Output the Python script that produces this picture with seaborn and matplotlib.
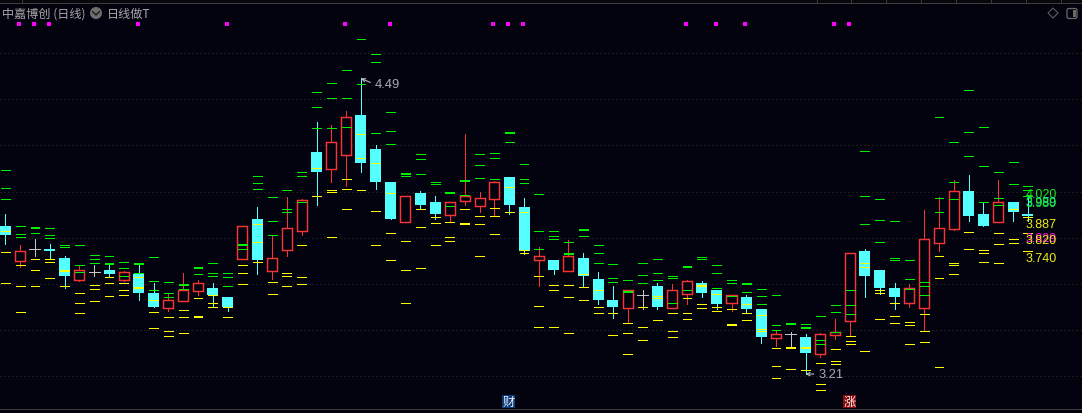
import numpy as np
import pandas as pd
import seaborn as sns
import matplotlib.pyplot as plt
from matplotlib.patches import Circle, FancyBboxPatch, Polygon, Rectangle
from matplotlib.transforms import Affine2D

# daily candles
opens = [3.851, 3.701, 3.750, 3.752, 3.713, 3.619, 3.651, 3.661, 3.619, 3.642,
         3.561, 3.497, 3.528, 3.571, 3.583, 3.544, 3.709, 3.881, 3.658, 3.748,
         3.831, 4.172, 4.099, 4.160, 4.332, 4.185, 4.042, 3.870, 3.994, 3.955,
         3.900, 3.961, 3.939, 3.969, 4.063, 3.933, 3.703, 3.704, 3.658, 3.713,
         3.622, 3.531, 3.497, 3.551, 3.591, 3.497, 3.558, 3.604, 3.574, 3.519,
         3.544, 3.492, 3.367, 3.382, 3.370, 3.298, 3.380, 3.441, 3.743, 3.661,
         3.583, 3.519, 3.497, 3.779, 3.839, 4.003, 3.903, 3.870, 3.955, 3.903]
closes = [3.812, 3.742, 3.750, 3.743, 3.635, 3.659, 3.651, 3.643, 3.651, 3.561,
          3.500, 3.529, 3.573, 3.603, 3.551, 3.500, 3.850, 3.704, 3.711, 3.841,
          3.962, 4.085, 4.214, 4.322, 4.124, 4.042, 3.881, 3.980, 3.942, 3.903,
          3.954, 3.980, 3.971, 4.040, 3.942, 3.743, 3.720, 3.661, 3.720, 3.635,
          3.531, 3.500, 3.573, 3.551, 3.500, 3.573, 3.612, 3.561, 3.513, 3.551,
          3.492, 3.370, 3.382, 3.382, 3.301, 3.382, 3.391, 3.733, 3.635, 3.583,
          3.544, 3.581, 3.793, 3.841, 4.001, 3.894, 3.851, 3.954, 3.912, 3.894]
highs = [3.903, 3.769, 3.795, 3.773, 3.721, 3.679, 3.682, 3.682, 3.656, 3.682,
         3.604, 3.555, 3.648, 3.616, 3.604, 3.544, 3.850, 3.933, 3.806, 3.977,
         3.968, 4.301, 4.287, 4.349, 4.490, 4.202, 4.042, 3.980, 4.001, 3.981,
         3.954, 4.248, 3.998, 4.047, 4.063, 3.972, 3.759, 3.704, 3.789, 3.734,
         3.652, 3.591, 3.573, 3.574, 3.603, 3.600, 3.617, 3.613, 3.574, 3.551,
         3.552, 3.492, 3.399, 3.391, 3.382, 3.388, 3.448, 3.733, 3.752, 3.661,
         3.604, 3.600, 3.920, 3.977, 4.049, 4.072, 3.954, 4.049, 3.955, 3.985]
lows = [3.773, 3.675, 3.721, 3.713, 3.583, 3.613, 3.635, 3.635, 3.613, 3.531,
        3.500, 3.483, 3.528, 3.552, 3.499, 3.483, 3.709, 3.643, 3.622, 3.721,
        3.812, 3.943, 4.042, 4.024, 4.085, 4.011, 3.881, 3.870, 3.923, 3.881,
        3.867, 3.942, 3.913, 3.893, 3.903, 3.731, 3.593, 3.643, 3.658, 3.591,
        3.513, 3.453, 3.430, 3.492, 3.492, 3.497, 3.513, 3.544, 3.492, 3.484,
        3.474, 3.344, 3.331, 3.330, 3.210, 3.285, 3.362, 3.373, 3.544, 3.557,
        3.492, 3.500, 3.399, 3.743, 3.834, 3.873, 3.851, 3.870, 3.873, 3.873]

# resistance / support dashes per day
green_levels = [
    [4.092, 4.014, 3.967], [3.850, 3.815, 3.802], [3.847, 3.843, 3.819], [3.841, 3.811, 3.798],
    [3.768, 3.759], [3.768, 3.681, 3.651], [3.724, 3.707, 3.690], [3.720, 3.691, 3.687],
    [3.694, 3.668, 3.633], [3.691, 3.687, 3.646], [3.716, 3.612, 3.573], [3.607, 3.560, 3.542],
    [3.600, 3.596, 3.577], [3.674, 3.670, 3.642], [3.690, 3.646, 3.633], [3.646, 3.629, 3.590],
    [3.774, 3.770, 3.750], [4.066, 4.036, 4.010], [3.975, 3.871, 3.811], [4.006, 3.923, 3.910],
    [4.084, 4.066, 3.954], [4.430, 4.365, 4.274], [4.469, 4.404, 4.274], [4.525, 4.404, 4.278],
    [4.660, 4.465], [4.595, 4.560, 4.252], [4.343, 4.261, 4.205], [4.081, 4.077, 4.066],
    [4.162, 4.140, 4.075], [4.040, 4.032], [4.000, 3.996, 3.936], [4.052, 4.048, 3.984],
    [4.162, 4.114, 4.058], [4.166, 4.144, 4.053], [4.258, 4.254, 4.214], [4.118, 4.053, 4.036],
    [3.988, 3.828, 3.750], [3.828, 3.806, 3.793], [3.780, 3.733, 3.729], [3.836, 3.832, 3.806],
    [3.768, 3.733, 3.690], [3.685, 3.625, 3.607], [3.616, 3.570, 3.566], [3.690, 3.638, 3.603],
    [3.707, 3.646, 3.616], [3.633, 3.625, 3.516], [3.678, 3.674, 3.573], [3.716, 3.707],
    [3.681, 3.646, 3.581], [3.616, 3.603, 3.547], [3.604, 3.600, 3.564], [3.577, 3.547, 3.512],
    [3.551, 3.421, 3.399], [3.431, 3.427], [3.425, 3.414, 3.410], [3.460, 3.356, 3.339],
    [3.508, 3.477, 3.391], [3.573, 3.508, 3.469], [4.175, 3.980, 3.858], [3.967, 3.876, 3.780],
    [3.871, 3.711, 3.703], [3.703, 3.620, 3.577], [3.607, 3.590, 3.551], [4.322, 3.971, 3.910],
    [4.214, 4.040, 3.967], [4.439, 4.257, 4.153], [4.278, 4.110, 3.954], [4.084, 3.971, 3.941],
    [4.127, 4.032], [4.023, 4.006, 3.980],
]
yellow_levels = [
    [3.828, 3.737, 3.603], [3.681, 3.590, 3.477], [3.707, 3.659, 3.590], [3.707, 3.694, 3.625],
    [3.662, 3.658, 3.590], [3.560, 3.516, 3.473], [3.594, 3.577, 3.525], [3.629, 3.603, 3.547],
    [3.603, 3.573, 3.551], [3.629, 3.587, 3.583], [3.529, 3.477, 3.408], [3.456, 3.395, 3.374],
    [3.486, 3.456, 3.386], [3.538, 3.463, 3.459], [3.551, 3.516, 3.499], [3.499, 3.456],
    [3.681, 3.646, 3.599], [3.858, 3.780, 3.694], [3.607, 3.555], [3.646, 3.633, 3.590],
    [3.768, 3.629, 3.599], [4.101, 3.980], [4.006, 3.997, 3.802], [4.053, 4.010, 3.923],
    [4.248, 4.144, 4.006], [4.123, 3.915, 3.768], [3.993, 3.819, 3.703], [3.785, 3.659, 3.516],
    [3.923, 3.846, 3.668], [3.889, 3.863, 3.768], [3.867, 3.802, 3.785], [3.923, 3.865, 3.861],
    [3.893, 3.858, 3.720], [3.928, 3.893, 3.815], [4.019, 3.910], [3.910, 3.746, 3.733],
    [3.633, 3.503, 3.412], [3.594, 3.573, 3.412], [3.594, 3.542, 3.386], [3.642, 3.586, 3.529],
    [3.573, 3.499, 3.473], [3.473, 3.378], [3.430, 3.386, 3.296], [3.499, 3.412, 3.356],
    [3.547, 3.538, 3.443], [3.473, 3.395, 3.369], [3.538, 3.473, 3.447], [3.594, 3.590, 3.512, 3.495],
    [3.555, 3.499, 3.482], [3.490, 3.427, 3.423], [3.512, 3.473, 3.443], [3.467, 3.404, 3.395],
    [3.321, 3.244, 3.192], [3.327, 3.323, 3.231], [3.327, 3.323, 3.226], [3.257, 3.166, 3.140],
    [3.317, 3.265, 3.252], [3.373, 3.352, 3.339], [3.690, 3.672, 3.309], [3.574, 3.560, 3.447],
    [3.516, 3.460, 3.430], [3.434, 3.421, 3.339], [3.469, 3.395, 3.348], [3.720, 3.625, 3.239],
    [3.690, 3.681, 3.642], [3.824, 3.750], [3.746, 3.733, 3.694], [3.819, 3.772, 3.690],
    [3.923, 3.793, 3.776], [3.889, 3.819, 3.742],
]

signal_days = [1, 2, 3, 9, 15, 23, 26, 33, 34, 35, 46, 48, 50, 56, 57]
signal_price = 4.724
grid_prices = [3.2, 3.4, 3.6, 3.8, 4.0, 4.2, 4.4, 4.6]

last_labels = ["4.020", "3.989", "3.980", "3.887", "3.829", "3.820", "3.740"]
last_values = [4.020, 3.985, 3.980, 3.889, 3.829, 3.819, 3.742]
last_colors = ["#11ee11", "#22e0d0", "#11ee11", "#f0f011", "#ff11ee", "#f0f011", "#f0f011"]

BG = "#03020f"
CYAN = "#54ffff"
RED = "#f53535"
GREY = "#c4c4c4"
GREEN = "#00f000"
YELLOW = "#ffff00"
TXT = "#a8a8a8"

sns.set_theme(style="dark", rc={"figure.facecolor": BG, "axes.facecolor": BG})
plt.rcParams["font.family"] = ["Noto Sans CJK SC", "DejaVu Sans"]

df = pd.DataFrame({"open": opens, "close": closes, "high": highs, "low": lows})
df["day"] = df.index
df["kind"] = np.where(df.close > df.open, "up", np.where(df.close < df.open, "down", "flat"))

rows = []
for day, vals in enumerate(green_levels):
    rows += [(day, v, GREEN) for v in vals]
for day, vals in enumerate(yellow_levels):
    rows += [(day, v, YELLOW) for v in vals]
levels = pd.DataFrame(rows, columns=["day", "price", "color"])
signals = pd.DataFrame({"day": np.array(signal_days) - 0.06, "price": signal_price})

fig = plt.figure(figsize=(10.82, 4.14), dpi=100)
ax = fig.add_axes([0, 0, 1, 1])
ax.set_xlim(-0.358, 72.65)
ax.set_ylim(3.0414, 4.834)
ax.set_yticks(grid_prices)
ax.set_xticks([])
ax.tick_params(left=False, labelleft=False)
ax.set_axisbelow(True)
ax.grid(axis="y", color="#303030", lw=0.72, ls=(0, (1, 3)))
sns.despine(ax=ax, left=True, bottom=True)

# wicks then bodies
wick_colors = df.kind.map({"up": RED, "down": CYAN, "flat": GREY})
ax.vlines(df.day, df.low, df.high, colors=wick_colors, lw=0.7, zorder=2, antialiased=False)

up = df[df.kind == "up"]
down = df[df.kind == "down"]
flat = df[df.kind == "flat"]
ax.bar(up.day, up.close - up.open, bottom=up.open, width=0.675, facecolor=BG, edgecolor=RED, lw=1.05, zorder=3)
ax.bar(down.day, down.open - down.close, bottom=down.close, width=0.742, color=CYAN, lw=0, zorder=3)
ax.hlines(flat.open, flat.day - 0.37, flat.day + 0.37, colors=GREY, lw=0.7, zorder=3, antialiased=False)

# no antialiasing so the dashes stay one solid pixel row
ax.hlines(levels.price, levels.day - 0.3, levels.day + 0.3, colors=levels.color, lw=0.7, zorder=4, antialiased=False)

sns.scatterplot(data=signals, x="day", y="price", marker="s", s=5.5, color="#ff00ff", linewidth=0,
                legend=False, ax=ax, zorder=4)
ax.set_xlabel("")
ax.set_ylabel("")

# high / low markers
arrow = dict(arrowstyle="->", color=GREY, lw=0.75, mutation_scale=6, shrinkA=1, shrinkB=0, relpos=(0, 0.5))
ax.annotate("4.49", xy=(24, 4.49), xytext=(14, -6), textcoords="offset pixels", color="#a6adb4",
            fontsize=9.3, family="Liberation Sans", va="center", arrowprops=arrow, zorder=6)
ax.annotate("3.21", xy=(54, 3.21), xytext=(13, 0), textcoords="offset pixels", color="#a6adb4",
            fontsize=9.3, family="Liberation Sans", va="center", arrowprops=arrow, zorder=6)

# last day value labels, just under their level
for lab, val, col in zip(last_labels, last_values, last_colors):
    ax.annotate(lab, xy=(69, val), xytext=(-2, -7), textcoords="offset pixels", color=col, fontsize=9,
                family="Liberation Sans", va="center", ha="left", zorder=6)

# frame and header stuff is in screen pixels
px = Affine2D().scale(1 / 1082, -1 / 414).translate(0, 1) + fig.transFigure

fig.add_artist(Rectangle((0, 0), 1082, 4, transform=px, color="#08080c", lw=0))
fig.add_artist(Rectangle((0, 4), 1082, 1, transform=px, color="#3c3c3c", lw=0))
fig.add_artist(Rectangle((0, 410), 1082, 1, transform=px, color="#3c3c3c", lw=0))
for tx in [22, 817, 851, 886, 921, 956, 991, 1026, 1061]:
    fig.add_artist(Rectangle((tx, 0), 1, 4, transform=px, color="#3c3c3c", lw=0))

fig.text(2 / 1082, 1 - 14 / 414, "中嘉博创 (日线)", color=TXT, fontsize=8.7, va="center")
fig.text(107 / 1082, 1 - 14 / 414, "日线做T", color=TXT, fontsize=8.7, va="center")
fig.add_artist(Circle((96, 14), 6, transform=px, color="#6e6e6e", lw=0))
fig.add_artist(plt.Line2D([92.5, 96, 99.5], [12.5, 16, 12.5], transform=px, color="#1a1a1a", lw=1))

fig.add_artist(Polygon([(1053, 9), (1058, 14), (1053, 19), (1048, 14)], closed=True, transform=px,
                       fill=False, edgecolor="#5c5c5c", lw=0.8))
fig.add_artist(FancyBboxPatch((1067, 9.5), 10, 10, boxstyle="round,pad=0,rounding_size=2", transform=px,
                              fill=False, edgecolor="#6a6a6a", lw=0.9))
fig.add_artist(Rectangle((1073, 11), 3, 7, transform=px, color="#6a6a6a", lw=0))

fig.add_artist(Rectangle((502, 396), 13, 13, transform=px, color="#0b3a78", lw=0))
fig.text(508.5 / 1082, 1 - 402.5 / 414, "财", color="#f0f0f0", fontsize=8.8, ha="center", va="center")
fig.add_artist(Rectangle((843, 396), 13, 13, transform=px, color="#8a0a0a", lw=0))
fig.text(849.5 / 1082, 1 - 402.5 / 414, "涨", color="#f0f0f0", fontsize=8.8, ha="center", va="center")

fig.savefig("out.png", dpi=100, facecolor=BG)
